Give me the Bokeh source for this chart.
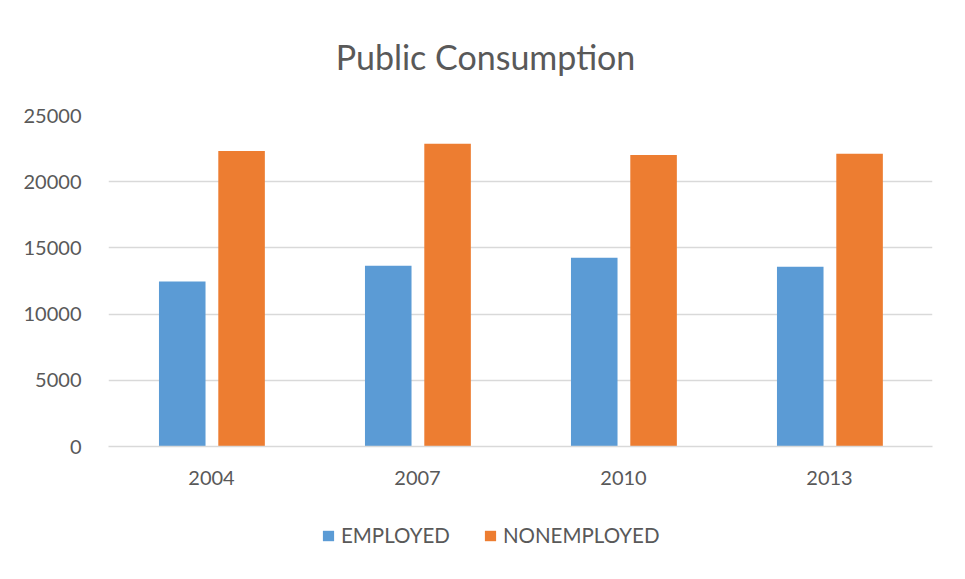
from bokeh.plotting import figure
from bokeh.layouts import column
from bokeh.models import (FactorRange, Range1d, FixedTicker, Legend, LegendItem,
                          ColumnDataSource, Label)
from bokeh.transform import dodge
from bokeh.embed import file_html
from bokeh.resources import INLINE

years = ["2004", "2007", "2010", "2013"]
employed = [12470, 13650, 14250, 13570]
nonemployed = [22320, 22870, 22020, 22120]
y_ticks = [0, 5000, 10000, 15000, 20000, 25000]
series_names = ["EMPLOYED", "NONEMPLOYED"]
title_text = "Public Consumption"

BLUE = "#5B9BD5"
ORANGE = "#ED7D31"
TEXT = "#595959"
GRID = "#d9d9d9"
FONT = "Lato"

src = ColumnDataSource(dict(year=years, employed=employed, nonemployed=nonemployed))

# title strip
pt = figure(width=949, height=100, x_range=Range1d(0, 1), y_range=Range1d(0, 1),
            output_backend="svg", toolbar_location=None, min_border=0)
pt.axis.visible = False
pt.grid.visible = False
pt.outline_line_color = None
pt.add_layout(Label(x=377, y=44, x_units="screen", y_units="screen", text=title_text,
                    text_align="center", text_baseline="alphabetic", text_font=FONT,
                    text_font_size="34px", text_color=TEXT))

# main chart
p = figure(x_range=FactorRange(*years), y_range=Range1d(0, 25000),
           width=949, height=400, output_backend="svg", toolbar_location=None,
           min_border_left=108, min_border_right=17, min_border_top=15,
           min_border_bottom=54)

r1 = p.vbar(x=dodge("year", -0.142, range=p.x_range), top="employed", width=0.226,
            source=src, fill_color=BLUE, line_color=None)
r2 = p.vbar(x=dodge("year", 0.146, range=p.x_range), top="nonemployed", width=0.226,
            source=src, fill_color=ORANGE, line_color=None)

p.outline_line_color = None
p.xgrid.grid_line_color = None
p.ygrid.grid_line_color = GRID
p.ygrid.grid_line_width = 1.5
p.yaxis.ticker = FixedTicker(ticks=y_ticks)

p.yaxis.axis_line_color = None
p.yaxis.major_tick_line_color = None
p.yaxis.minor_tick_line_color = None
p.yaxis.major_label_standoff = 21
p.yaxis.major_label_text_font = FONT
p.yaxis.major_label_text_font_size = "20px"
p.yaxis.major_label_text_color = TEXT

p.xaxis.axis_line_color = GRID
p.xaxis.axis_line_width = 1.5
p.xaxis.major_tick_line_color = None
p.xaxis.minor_tick_line_color = None
p.xaxis.major_label_standoff = 18
p.xaxis.major_label_text_font = FONT
p.xaxis.major_label_text_font_size = "20px"
p.xaxis.major_label_text_color = TEXT

# legend strip below the chart; key renderers share the data but have zero size
pl = figure(width=949, height=63, x_range=FactorRange(*years), y_range=Range1d(0, 1),
            output_backend="svg", toolbar_location=None, min_border=0)
pl.axis.visible = False
pl.grid.visible = False
pl.outline_line_color = None
k1 = pl.vbar(x="year", top="employed", bottom="employed", width=0, source=src,
             fill_color=BLUE, line_color=None)
k2 = pl.vbar(x="year", top="nonemployed", bottom="nonemployed", width=0, source=src,
             fill_color=ORANGE, line_color=None)

legend = Legend(items=[LegendItem(label=series_names[0], renderers=[k1]),
                       LegendItem(label=series_names[1], renderers=[k2])],
                orientation="horizontal", location=(213, 16),
                glyph_width=14, glyph_height=13, label_standoff=6, spacing=33,
                padding=0, margin=0, border_line_color=None, background_fill_alpha=0,
                label_text_font=FONT, label_text_font_size="20.5px", label_text_color=TEXT)
pl.add_layout(legend)

layout = column(pt, p, pl, spacing=0)
open("out.html", "w").write(file_html(layout, INLINE))
